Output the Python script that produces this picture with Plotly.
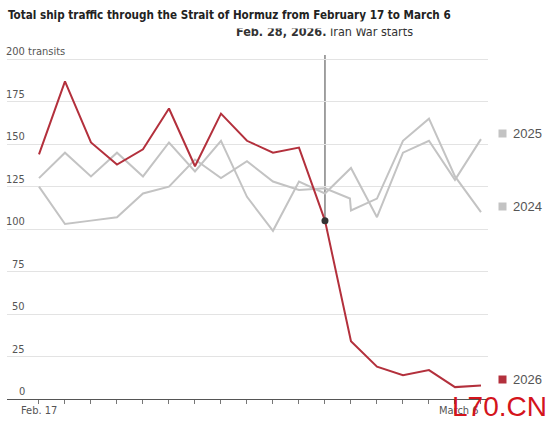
import plotly.graph_objects as go

# ---------------- data ----------------
DAY_LABELS = ["Feb. 17", "Feb. 18", "Feb. 19", "Feb. 20", "Feb. 21", "Feb. 22",
              "Feb. 23", "Feb. 24", "Feb. 25", "Feb. 26", "Feb. 27", "Feb. 28",
              "March 1", "March 2", "March 3", "March 4", "March 5", "March 6"]
DAYS = list(range(len(DAY_LABELS)))

V2026 = [144, 187, 151, 138, 147, 171, 137, 168, 152, 145, 148, 105, 34, 19, 14, 17, 7, 8]
V2025 = [130, 145, 131, 145, 131, 151, 134, 152, 119, 99, 128, 121, 136, 107, 145, 152, 129, 153]
# 2024 is a leap year: one extra reading squeezed in before March 1
X2024 = list(range(12)) + [11.96] + list(range(12, 18))
V2024 = [125, 103, 105, 107, 121, 125, 141, 130, 140, 128, 123, 124, 118, 111, 118, 152, 165, 131, 110]

Y_TICKS = [0, 25, 50, 75, 100, 125, 150, 175, 200]
Y_TICK_TEXT = ["0", "25", "50", "75", "100", "125", "150", "175", "200"]
Y_UNIT = "transits"
X_LABEL_IDX = [0, 17]
WAR_IDX = 11
WAR_TEXT_BOLD = "Feb. 28, 2026."
WAR_TEXT = " Iran War starts"
TITLE = "Total ship traffic through the Strait of Hormuz from February 17 to March 6"

RED = "#b3303c"
GREY = "#c3c3c3"
NARROW = "DejaVu Sans Condensed, Liberation Sans Narrow, sans-serif"
REG = "Liberation Sans, Arial, sans-serif"

Y_TOP = 202.5

fig = go.Figure()
fig.add_trace(go.Scatter(x=X2024, y=V2024, mode="lines", line=dict(color=GREY, width=2),
                         name="2024", hoverinfo="skip"))
fig.add_trace(go.Scatter(x=DAYS, y=V2025, mode="lines", line=dict(color=GREY, width=2),
                         name="2025", hoverinfo="skip"))
fig.add_trace(go.Scatter(x=DAYS, y=V2026, mode="lines", line=dict(color=RED, width=2),
                         name="2026", hoverinfo="skip"))
fig.add_trace(go.Scatter(x=[DAYS[WAR_IDX]], y=[V2026[WAR_IDX]], mode="markers",
                         marker=dict(color="#333333", size=7), hoverinfo="skip",
                         cliponaxis=False))

# vertical line at war start
fig.add_shape(type="line", xref="x", yref="y", x0=DAYS[WAR_IDX], x1=DAYS[WAR_IDX],
              y0=V2026[WAR_IDX], y1=Y_TOP, line=dict(color="#444444", width=1), layer="below")

TICKFONT = dict(family=NARROW, size=11, color="#555555")
ann = []
# y tick labels
for v, t in zip(Y_TICKS, Y_TICK_TEXT):
    ann.append(dict(xref="paper", yref="y", x=0.040, y=v, xanchor="right", yanchor="bottom",
                    text=t, showarrow=False, font=TICKFONT, borderpad=0))
ann.append(dict(xref="paper", yref="y", x=0.041, y=Y_TICKS[-1], xanchor="left", yanchor="bottom",
                text=Y_UNIT, showarrow=False, font=TICKFONT, borderpad=0))
# x tick labels
ann.append(dict(xref="x", yref="paper", x=DAYS[X_LABEL_IDX[0]], y=0, xanchor="center", yanchor="top",
                yshift=-3, text=DAY_LABELS[X_LABEL_IDX[0]], showarrow=False, font=TICKFONT))
ann.append(dict(xref="x", yref="paper", x=DAYS[X_LABEL_IDX[1]], y=0, xanchor="right", yanchor="top",
                yshift=-3, text=DAY_LABELS[X_LABEL_IDX[1]], showarrow=False, font=TICKFONT))
# end labels
for name, vals, col in [("2025", V2025, GREY), ("2024", V2024, GREY), ("2026", V2026, RED)]:
    ann.append(dict(xref="paper", yref="y", x=1.0208, y=vals[-1], xanchor="left", yanchor="middle",
                    yshift=6, text=" ", width=7, height=7, bgcolor=col, borderpad=0,
                    showarrow=False, font=dict(size=1)))
    ann.append(dict(xref="paper", yref="y", x=1.048, y=vals[-1], xanchor="left", yanchor="middle",
                    yshift=6, text=name, showarrow=False,
                    font=dict(family=REG, size=13, color="#555555")))
# war annotation
ann.append(dict(xref="x", yref="paper", x=DAYS[WAR_IDX], y=1, xanchor="center", yanchor="bottom",
                yshift=14, text="<b>" + WAR_TEXT_BOLD + "</b>" + WAR_TEXT, showarrow=False,
                font=dict(family=NARROW, size=12.5, color="#333333")))
# white cover (clips the top of the annotation as in the original)
ann.append(dict(xref="x", yref="paper", x=DAYS[WAR_IDX], y=1, xanchor="center", yanchor="bottom",
                yshift=26, text=" ", width=200, height=6, bgcolor="white", borderpad=0,
                showarrow=False, font=dict(size=1)))
# watermark
ann.append(dict(xref="paper", yref="paper", x=1.127, y=0, xanchor="right", yanchor="top",
                yshift=10, text="L70.CN", showarrow=False,
                font=dict(family=REG, size=28, color="#d4141c")))

fig.update_layout(
    width=550, height=426,
    margin=dict(l=7, r=62, t=55, b=27),
    paper_bgcolor="white", plot_bgcolor="white",
    showlegend=False,
    title=dict(text="<b>" + TITLE + "</b>", x=8 / 550, xanchor="left", xref="container",
               y=0.965, yanchor="middle",
               font=dict(family=NARROW, size=11.6, color="#222222")),
    annotations=ann,
    xaxis=dict(range=[-1.23, 17.27], tickvals=DAYS, showticklabels=False, ticks="outside",
               ticklen=4, tickcolor="#777777", showgrid=False, zeroline=False,
               showline=True, linecolor="#555555", linewidth=1, fixedrange=True),
    yaxis=dict(range=[0, Y_TOP], tickvals=Y_TICKS, showticklabels=False, showgrid=True,
               gridcolor="#e3e3e3", gridwidth=1, zeroline=False, showline=False, fixedrange=True),
)

fig.write_html("out.html", config={"displayModeBar": False},
               post_script="document.body.style.margin='0';")
